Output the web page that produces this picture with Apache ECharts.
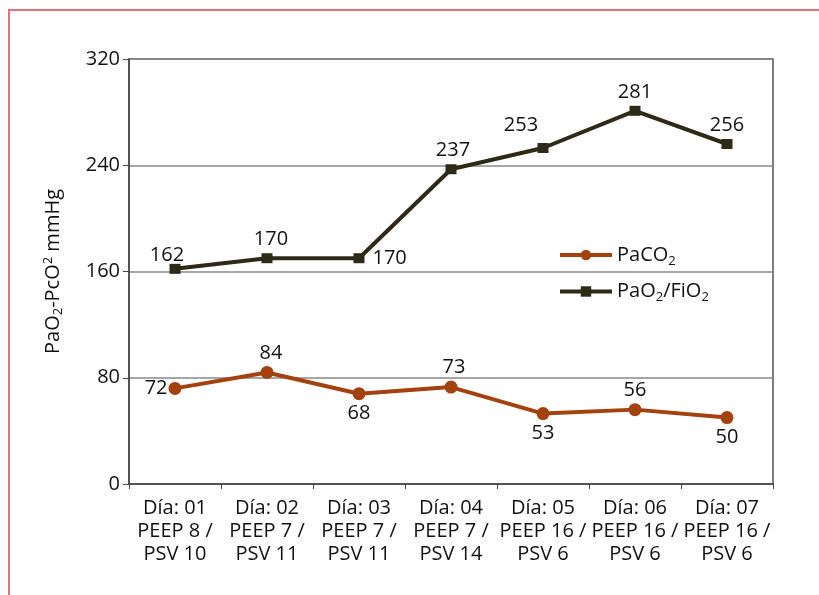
<!DOCTYPE html>
<html>
<head>
<meta charset="utf-8">
<script src="https://cdn.jsdelivr.net/npm/echarts@6/dist/echarts.min.js"></script>
<style>
html,body{margin:0;padding:0;background:#fff;}
#frame{position:absolute;left:8px;top:9px;width:811px;height:586px;border-left:2px solid #e8707a;border-top:2px solid #e8707a;box-sizing:border-box;}
#c{position:absolute;left:0;top:0;width:819px;height:595px;}
</style>
</head>
<body>
<div id="frame"></div>
<div id="c"></div>
<script>
const categories = [
  'Día: 01\nPEEP 8 /\nPSV 10',
  'Día: 02\nPEEP 7 /\nPSV 11',
  'Día: 03\nPEEP 7 /\nPSV 11',
  'Día: 04\nPEEP 7 /\nPSV 14',
  'Día: 05\nPEEP 16 /\nPSV 6',
  'Día: 06\nPEEP 16 /\nPSV 6',
  'Día: 07\nPEEP 16 /\nPSV 6'
];
const paco2 = [72, 84, 68, 73, 53, 56, 50];
const pao2fio2 = [162, 170, 170, 237, 253, 281, 256];
const paco2LabelPos = ['left', 'top', 'bottom', 'top', 'bottom', 'top', 'bottom'];
const pao2LabelPos = ['top', 'top', 'right', 'top', 'top', 'top', 'top'];
const yTicks = [0, 80, 160, 240, 320];

const FONT = '"Open Sans", "Noto Sans", sans-serif';
const chart = echarts.init(document.getElementById('c'));

function labeled(values, positions, extraOffsets) {
  return values.map((v, i) => ({
    value: v,
    label: {
      position: positions[i],
      offset: extraOffsets[i] || [0, 0]
    }
  }));
}

chart.setOption({
  animation: false,
  textStyle: { fontFamily: FONT },
  grid: {
    left: 129, right: 46, top: 59, bottom: 111,
    show: true, borderColor: '#555', borderWidth: 1.5, backgroundColor: 'transparent'
  },
  legend: {
    left: 553, top: 240,
    orient: 'vertical',
    itemGap: 14,
    itemWidth: 52,
    itemHeight: 13,
    lineStyle: { width: 4 },
    textStyle: {
      color: '#111', fontSize: 20, fontFamily: FONT,
      rich: {
        a: { fontSize: 20, color: '#111', fontFamily: FONT },
        s: { fontSize: 13, color: '#111', fontFamily: FONT, padding: [12, 0, 0, 0] }
      }
    },
    formatter: function (name) {
      if (name === 'PaCO2') return '{a|PaCO}{s|2}';
      return '{a|PaO}{s|2}{a|/FiO}{s|2}';
    },
    data: ['PaCO2', 'PaO2/FiO2']
  },
  xAxis: {
    type: 'category',
    data: categories,
    boundaryGap: true,
    axisLine: { lineStyle: { color: '#444', width: 1.5 } },
    axisTick: { show: true, length: 5, lineStyle: { color: '#444' } },
    axisLabel: {
      color: '#111', fontSize: 20, fontFamily: FONT, lineHeight: 23, margin: 13, interval: 0
    }
  },
  yAxis: {
    type: 'value',
    min: 0, max: 320, interval: 80,
    axisLine: { show: true, lineStyle: { color: '#444', width: 1.5 } },
    axisTick: { show: true, length: 6, lineStyle: { color: '#444' } },
    axisLabel: {
      color: '#111', fontSize: 20, fontFamily: FONT, margin: 9,
      formatter: function (v) { return yTicks.indexOf(v) >= 0 ? String(v) : ''; }
    },
    splitLine: { show: true, lineStyle: { color: '#888', width: 1.5 } },
    name: '{a|PaO}{s|2}{a|-PcO}{p|2}{a| mmHg}',
    nameLocation: 'middle',
    nameGap: 64,
    nameRotate: 90,
    nameTextStyle: {
      color: '#111', fontSize: 20, fontFamily: FONT,
      rich: {
        a: { fontSize: 20, color: '#111', fontFamily: FONT },
        s: { fontSize: 13, color: '#111', fontFamily: FONT, padding: [11, 0, 0, 0] },
        p: { fontSize: 13, color: '#111', fontFamily: FONT, padding: [0, 0, 10, 0] }
      }
    }
  },
  series: [
    {
      name: 'PaCO2',
      type: 'line',
      data: labeled(paco2, paco2LabelPos, [[2, 0], [4, 0], [0, 0], [3, 0], [0, 0], [0, 0], [0, 0]]),
      symbol: 'circle',
      symbolSize: 13,
      lineStyle: { color: '#a3420f', width: 4 },
      itemStyle: { color: '#a3420f' },
      label: { show: true, color: '#111', fontSize: 20, fontFamily: FONT, distance: 3 },
      z: 3
    },
    {
      name: 'PaO2/FiO2',
      type: 'line',
      data: labeled(pao2fio2, pao2LabelPos, [[-8, 5], [4, 0], [4, 0], [2, 0], [-22, -4], [0, 0], [0, 0]]),
      symbol: 'rect',
      symbolSize: [11, 10],
      lineStyle: { color: '#2d2a17', width: 4 },
      itemStyle: { color: '#2d2a17' },
      label: { show: true, color: '#111', fontSize: 20, fontFamily: FONT, distance: 4 },
      z: 3
    }
  ]
});
</script>
</body>
</html>
